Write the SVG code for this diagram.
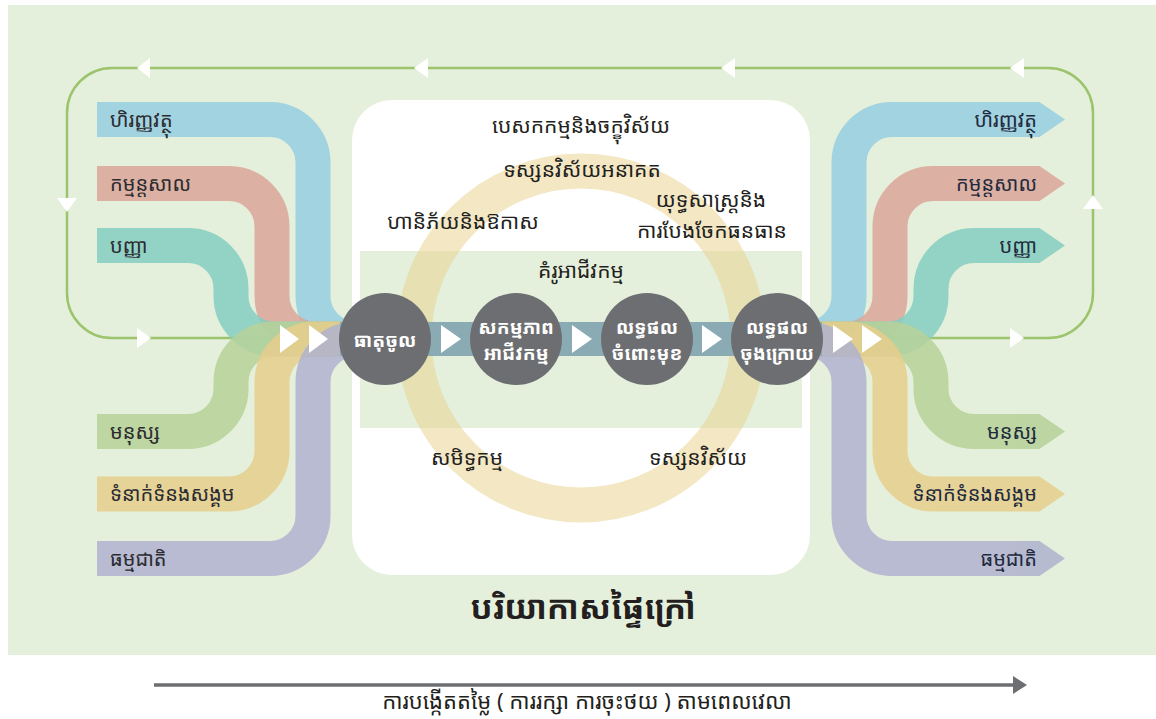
<svg xmlns="http://www.w3.org/2000/svg" width="1156" height="719" viewBox="0 0 1156 719">
  <defs>
    <style>
      .km { font-family: "Noto Sans Khmer", "Khmer OS System", "Khmer OS", "Noto Serif Khmer", "Noto Sans", sans-serif; }
      .lbl { font-size: 20px; fill: #2b2b30; }
      .lblr { font-size: 20px; fill: #1f2a3d; text-anchor: end; }
      .mid { font-size: 21px; fill: #231f20; text-anchor: middle; }
      .node-t { font-size: 19px; font-weight: bold; fill: #ffffff; text-anchor: middle; }
      .band { fill: none; stroke-width: 35; stroke-linecap: butt; stroke-linejoin: round; }
      .tri { fill: #ffffff; }
      .loop { fill: none; stroke: #9cc46c; stroke-width: 2.5; }
      .node { fill: #6d6e71; }
    </style>
  </defs>

  <!-- canvas -->
  <rect x="0" y="0" width="1156" height="719" fill="#ffffff"/>
  <rect x="8" y="5" width="1148" height="650" fill="#e5f0dc"/>

  <!-- strategy panel -->
  <rect x="352" y="100" width="458" height="475" rx="40" ry="40" fill="#ffffff"/>
  <rect x="360" y="251" width="442" height="177" fill="#e5f0dc"/>
  <circle cx="581" cy="338" r="167" fill="none" stroke="#e8cf8a" stroke-opacity="0.5" stroke-width="35"/>

  <!-- feedback loop -->
  <g id="loop">
    <path class="loop" d="M880,338 H1048 A45,45 0 0 0 1093,293 V113 A45,45 0 0 0 1048,68 H112 A45,45 0 0 0 67,113 V293 A45,45 0 0 0 112,338 H290"/>
    <polygon class="tri" points="137,68 150,58 150,78"/>
    <polygon class="tri" points="414,68 428,58 428,78"/>
    <polygon class="tri" points="721,68 735,58 735,78"/>
    <polygon class="tri" points="1010,68 1024,58 1024,78"/>
    <polygon class="tri" points="57,198 77,198 67,212"/>
    <polygon class="tri" points="137,328 137,348 151,338"/>
    <polygon class="tri" points="1010,328 1010,348 1024,338"/>
    <polygon class="tri" points="1083,209 1103,209 1093,195"/>
  </g>

  <!-- capital inputs -->
  <g id="inputs">
    <g id="in-financial" opacity="0.85"><path class="band" stroke="#97cee1" d="M97,119.5 H270 A43,43 0 0 1 313,162.5 V296 A43,43 0 0 0 356,339 H372"/></g>
    <g id="in-manufactured" opacity="0.85"><path class="band" stroke="#dba598" d="M97,183.5 H229 A43,43 0 0 1 272,226.5 V296 A43,43 0 0 0 315,339 H372"/></g>
    <g id="in-intellectual" opacity="0.85"><path class="band" stroke="#85cec2" d="M97,245.5 H188 A43,43 0 0 1 231,288.5 V296 A43,43 0 0 0 274,339 H372"/></g>
    <g id="in-human" opacity="0.85"><path class="band" stroke="#b7d198" d="M97,431.5 H188 A43,43 0 0 0 231,388.5 V382 A43,43 0 0 1 274,339 H372"/></g>
    <g id="in-social" opacity="0.85"><path class="band" stroke="#e6ce8c" d="M97,494 H229 A43,43 0 0 0 272,451 V382 A43,43 0 0 1 315,339 H372"/></g>
    <g id="in-natural" opacity="0.85"><path class="band" stroke="#b0b2cf" d="M97,558.5 H270 A43,43 0 0 0 313,515.5 V382 A43,43 0 0 1 356,339 H372"/></g>
  </g>

  <!-- capital outcomes -->
  <g id="outputs">
    <g id="out-financial" opacity="0.85"><path class="band" stroke="#97cee1" d="M790,339 H806 A43,43 0 0 0 849,296 V162.5 A43,43 0 0 1 892,119.5 H1040"/><polygon fill="#97cee1" points="1039.5,102 1065,119.5 1039.5,137"/></g>
    <g id="out-manufactured" opacity="0.85"><path class="band" stroke="#dba598" d="M790,339 H847 A43,43 0 0 0 890,296 V226.5 A43,43 0 0 1 933,183.5 H1040"/><polygon fill="#dba598" points="1039.5,166 1065,183.5 1039.5,201"/></g>
    <g id="out-intellectual" opacity="0.85"><path class="band" stroke="#85cec2" d="M790,339 H888 A43,43 0 0 0 931,296 V288.5 A43,43 0 0 1 974,245.5 H1040"/><polygon fill="#85cec2" points="1039.5,228 1065,245.5 1039.5,263"/></g>
    <g id="out-human" opacity="0.85"><path class="band" stroke="#b7d198" d="M790,339 H888 A43,43 0 0 1 931,382 V388.5 A43,43 0 0 0 974,431.5 H1040"/><polygon fill="#b7d198" points="1039.5,414 1065,431.5 1039.5,449"/></g>
    <g id="out-social" opacity="0.85"><path class="band" stroke="#e6ce8c" d="M790,339 H847 A43,43 0 0 1 890,382 V451 A43,43 0 0 0 933,494 H1040"/><polygon fill="#e6ce8c" points="1039.5,476.5 1065,494 1039.5,511.5"/></g>
    <g id="out-natural" opacity="0.85"><path class="band" stroke="#b0b2cf" d="M790,339 H806 A43,43 0 0 1 849,382 V515.5 A43,43 0 0 0 892,558.5 H1040"/><polygon fill="#b0b2cf" points="1039.5,541 1065,558.5 1039.5,576"/></g>
  </g>

  <!-- process flow -->
  <g id="connectors">
    <rect x="340" y="322" width="482" height="34" fill="#8aabb3"/>
    <polygon class="tri" points="280,325 280,353 299,339"/>
    <polygon class="tri" points="309,325 309,353 328,339"/>
    <polygon class="tri" points="441,325 441,353 461,339"/>
    <polygon class="tri" points="572,325 572,353 592,339"/>
    <polygon class="tri" points="702,325 702,353 722,339"/>
    <polygon class="tri" points="833,325 833,353 853,339"/>
    <polygon class="tri" points="862,325 862,353 882,339"/>
  </g>

  <g id="node-inputs">
    <circle class="node" cx="385" cy="339" r="46"/>
    <text class="km node-t" x="385" y="347">ធាតុចូល</text>
  </g>
  <g id="node-activities">
    <circle class="node" cx="516" cy="339" r="46"/>
    <text class="km node-t" x="516" y="334">សកម្មភាព</text>
    <text class="km node-t" x="516" y="360">អាជីវកម្ម</text>
  </g>
  <g id="node-outputs">
    <circle class="node" cx="647" cy="339" r="46"/>
    <text class="km node-t" x="647" y="334">លទ្ធផល</text>
    <text class="km node-t" x="647" y="360">ចំពោះមុខ</text>
  </g>
  <g id="node-outcomes">
    <circle class="node" cx="777" cy="339" r="46"/>
    <text class="km node-t" x="777" y="334">លទ្ធផល</text>
    <text class="km node-t" x="777" y="360">ចុងក្រោយ</text>
  </g>

  <!-- strategy labels -->
  <g id="strategy-labels">
    <text class="km mid" x="581" y="133">បេសកកម្មនិងចក្ខុវិស័យ</text>
    <text class="km mid" x="582" y="177">ទស្សនវិស័យអនាគត</text>
    <text class="km mid" x="463" y="229">ហានិភ័យនិងឱកាស</text>
    <text class="km mid" x="711" y="207">យុទ្ធសាស្ត្រនិង</text>
    <text class="km mid" x="712" y="238">ការបែងចែកធនធាន</text>
    <text class="km mid" x="581" y="278">គំរូអាជីវកម្ម</text>
    <text class="km mid" x="467" y="465">សមិទ្ធកម្ម</text>
    <text class="km mid" x="698" y="465">ទស្សនវិស័យ</text>
  </g>

  <!-- band labels -->
  <g id="input-labels">
    <text class="km lbl" x="110" y="127">ហិរញ្ញវត្ថុ</text>
    <text class="km lbl" x="110" y="191">កម្មន្តសាល</text>
    <text class="km lbl" x="110" y="253">បញ្ញា</text>
    <text class="km lbl" x="110" y="439">មនុស្ស</text>
    <text class="km lbl" x="110" y="501">ទំនាក់ទំនងសង្គម</text>
    <text class="km lbl" x="110" y="566">ធម្មជាតិ</text>
  </g>
  <g id="output-labels">
    <text class="km lblr" x="1037" y="127">ហិរញ្ញវត្ថុ</text>
    <text class="km lblr" x="1037" y="191">កម្មន្តសាល</text>
    <text class="km lblr" x="1037" y="253">បញ្ញា</text>
    <text class="km lblr" x="1037" y="439">មនុស្ស</text>
    <text class="km lblr" x="1037" y="501">ទំនាក់ទំនងសង្គម</text>
    <text class="km lblr" x="1037" y="566">ធម្មជាតិ</text>
  </g>

  <!-- external environment -->
  <text id="environment" class="km" x="583" y="619" font-size="33" font-weight="bold" fill="#231f20" text-anchor="middle">បរិយាកាសផ្ទៃក្រៅ</text>

  <!-- time axis -->
  <g id="time-axis">
    <line x1="154" y1="685" x2="1014" y2="685" stroke="#6d6e71" stroke-width="3.5"/>
    <polygon points="1013,676 1027,685 1013,694" fill="#6d6e71"/>
    <text class="km" x="587" y="709" font-size="22" fill="#231f20" text-anchor="middle">ការបង្កើតតម្លៃ ( ការរក្សា ការចុះថយ ) តាមពេលវេលា</text>
  </g>
</svg>
